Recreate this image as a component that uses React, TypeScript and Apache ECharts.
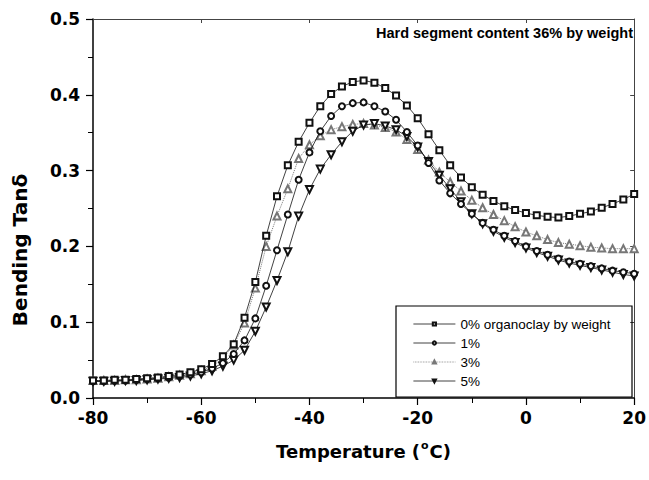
import React, { useEffect, useRef } from "react";
import * as echarts from "echarts";

// Temperature sweep (°C)
const temperatures = [
  -80, -78, -76, -74, -72, -70, -68, -66, -64, -62,
  -60, -58, -56, -54, -52, -50, -48, -46, -44, -42,
  -40, -38, -36, -34, -32, -30, -28, -26, -24, -22,
  -20, -18, -16, -14, -12, -10, -8, -6, -4, -2,
  0, 2, 4, 6, 8, 10, 12, 14, 16, 18,
  20,
];

// Bending tan delta for each organoclay loading
const tanDelta0 = [
  0.023, 0.023, 0.024, 0.024, 0.025, 0.026, 0.027, 0.029, 0.031, 0.034,
  0.038, 0.045, 0.055, 0.071, 0.106, 0.153, 0.214, 0.266, 0.307, 0.338,
  0.363, 0.385, 0.401, 0.411, 0.417, 0.419, 0.416, 0.409, 0.399, 0.386,
  0.369, 0.348, 0.327, 0.307, 0.291, 0.278, 0.268, 0.26, 0.253, 0.248,
  0.244, 0.241, 0.239, 0.238, 0.24, 0.243, 0.246, 0.251, 0.256, 0.262,
  0.269,
];
const tanDelta1 = [
  0.022, 0.022, 0.023, 0.023, 0.024, 0.025, 0.026, 0.027, 0.029, 0.031,
  0.034, 0.039, 0.046, 0.058, 0.076, 0.105, 0.148, 0.195, 0.242, 0.288,
  0.324, 0.352, 0.372, 0.385, 0.389, 0.39, 0.385, 0.378, 0.367, 0.351,
  0.333, 0.31, 0.287, 0.27, 0.256, 0.243, 0.231, 0.222, 0.214, 0.207,
  0.2, 0.194, 0.189, 0.184, 0.18, 0.177, 0.174, 0.171, 0.168, 0.166,
  0.164,
];
const tanDelta3 = [
  0.023, 0.023, 0.023, 0.024, 0.024, 0.025, 0.026, 0.028, 0.03, 0.032,
  0.036, 0.042, 0.052, 0.07, 0.099, 0.145, 0.2, 0.24, 0.276, 0.316,
  0.334, 0.346, 0.354, 0.358, 0.361, 0.362, 0.36, 0.357, 0.351, 0.341,
  0.328, 0.314, 0.298, 0.285, 0.273, 0.261, 0.251, 0.242, 0.234, 0.226,
  0.219, 0.214, 0.209, 0.205, 0.203, 0.201, 0.199, 0.198, 0.197, 0.197,
  0.197,
];
const tanDelta5 = [
  0.022, 0.022, 0.022, 0.023, 0.023, 0.024, 0.025, 0.026, 0.027, 0.029,
  0.032, 0.036, 0.042, 0.05, 0.063, 0.088, 0.12, 0.155, 0.193, 0.24,
  0.275, 0.302, 0.321, 0.338, 0.352, 0.36, 0.362, 0.359, 0.354, 0.345,
  0.331, 0.312, 0.294, 0.276, 0.259, 0.243, 0.23, 0.22, 0.212, 0.205,
  0.198, 0.192, 0.187, 0.182, 0.178, 0.175, 0.172, 0.169, 0.166, 0.163,
  0.161,
];

const seriesNames = ["0% organoclay by weight", "1%", "3%", "5%"];

const xMin = -80;
const xMax = 20;
const xStep = 20;
const yMin = 0;
const yMax = 0.5;
const yStep = 0.1;

const pair = (vals: number[]) => temperatures.map((t, i) => [t, vals[i]]);

export default function App() {
  const ref = useRef<HTMLDivElement>(null);

  useEffect(() => {
    document.body.style.margin = "0";
    if (!ref.current) return;
    const chart = echarts.init(ref.current, undefined, { renderer: "svg" });

    const tickFont = {
      color: "#000",
      fontFamily: "DejaVu Sans",
      fontWeight: "bold" as const,
      fontSize: 17,
    };

    const option = {
      animation: false,
      backgroundColor: "#fff",
      grid: { left: 93, right: 12, top: 19, bottom: 82 },
      xAxis: [
        {
          type: "value",
          min: xMin,
          max: xMax,
          interval: xStep,
          axisLine: { show: true, onZero: false, lineStyle: { color: "#000", width: 1.5 } },
          axisTick: { show: true, inside: false, length: 7, lineStyle: { color: "#000", width: 1.2 } },
          minorTick: { show: true, splitNumber: 2, length: 5, lineStyle: { color: "#000", width: 1 } },
          splitLine: { show: false },
          axisLabel: { ...tickFont, margin: 11 },
          name: "Temperature ({sup|o}C)",
          nameLocation: "middle",
          nameGap: 42,
          nameTextStyle: {
            color: "#000",
            fontFamily: "DejaVu Sans",
            fontWeight: "bold",
            fontSize: 18,
            rich: {
              sup: {
                color: "#000",
                fontFamily: "DejaVu Sans",
                fontWeight: "bold",
                fontSize: 11,
                verticalAlign: "top",
                lineHeight: 22,
                padding: [0, 1, 0, 1],
              },
            },
          },
        },
        {
          type: "value",
          position: "top",
          min: xMin,
          max: xMax,
          interval: xStep,
          axisLine: { show: true, onZero: false, lineStyle: { color: "#444", width: 1 } },
          axisTick: { show: true, inside: true, length: 4, lineStyle: { color: "#444" } },
          axisLabel: { show: false },
          splitLine: { show: false },
        },
      ],
      yAxis: [
        {
          type: "value",
          min: yMin,
          max: yMax,
          interval: yStep,
          axisLine: { show: true, onZero: false, lineStyle: { color: "#000", width: 1.5 } },
          axisTick: { show: true, inside: false, length: 7, lineStyle: { color: "#000", width: 1.2 } },
          minorTick: { show: true, splitNumber: 2, length: 5, lineStyle: { color: "#000", width: 1 } },
          splitLine: { show: false },
          axisLabel: { ...tickFont, margin: 13, formatter: (v: number) => v.toFixed(1) },
        },
        {
          type: "value",
          position: "right",
          min: yMin,
          max: yMax,
          interval: yStep,
          axisLine: { show: true, onZero: false, lineStyle: { color: "#444", width: 1 } },
          axisTick: { show: true, inside: true, length: 4, lineStyle: { color: "#444" } },
          axisLabel: { show: false },
          splitLine: { show: false },
        },
      ],
      legend: {
        orient: "vertical",
        left: 408,
        top: 312,
        z: 60,
        itemWidth: 42,
        itemHeight: 4,
        itemGap: 5,
        data: seriesNames,
        lineStyle: { width: 0.8 },
        itemStyle: { borderWidth: 0.8 },
        textStyle: { fontFamily: "Liberation Sans", fontSize: 13.5, color: "#000", lineHeight: 14 },
      },
      graphic: [
        {
          type: "rect",
          z: 1,
          shape: { x: 396, y: 306, width: 236, height: 91 },
          style: { fill: "none", stroke: "#000", lineWidth: 1.2 },
        },
        {
          type: "text",
          x: 633,
          y: 33,
          style: {
            text: "Hard segment content 36% by weight",
            font: 'bold 14.5px "Liberation Sans"',
            fill: "#000",
            align: "right",
            verticalAlign: "middle",
          },
        },
        {
          type: "text",
          x: 20,
          y: 250,
          rotation: Math.PI / 2,
          style: {
            text: "Bending Tanδ",
            font: 'bold 20px "DejaVu Sans"',
            fill: "#000",
            align: "center",
            verticalAlign: "middle",
          },
        },
      ],
      series: [
        {
          name: seriesNames[0],
          type: "line",
          z: 5,
          data: pair(tanDelta0),
          symbol: "emptyRect",
          symbolSize: 6,
          lineStyle: { color: "#111", width: 0.8 },
          itemStyle: { color: "#111", borderWidth: 0.9 },
        },
        {
          name: seriesNames[1],
          type: "line",
          z: 4,
          data: pair(tanDelta1),
          symbol: "emptyCircle",
          symbolSize: 6,
          lineStyle: { color: "#111", width: 0.8 },
          itemStyle: { color: "#111", borderWidth: 0.9 },
        },
        {
          name: seriesNames[2],
          type: "line",
          z: 2,
          data: pair(tanDelta3),
          symbol: "emptyTriangle",
          symbolSize: 7,
          lineStyle: { color: "#777", width: 1, type: "dotted" },
          itemStyle: { color: "#777", borderWidth: 0.8 },
        },
        {
          name: seriesNames[3],
          type: "line",
          z: 3,
          data: pair(tanDelta5),
          symbol: "emptyTriangle",
          symbolRotate: 180,
          symbolSize: 7,
          lineStyle: { color: "#111", width: 0.8 },
          itemStyle: { color: "#111", borderWidth: 0.9 },
        },
      ],
    };

    chart.setOption(option as any);
    return () => chart.dispose();
  }, []);

  return <div ref={ref} style={{ width: 649, height: 480 }} />;
}
